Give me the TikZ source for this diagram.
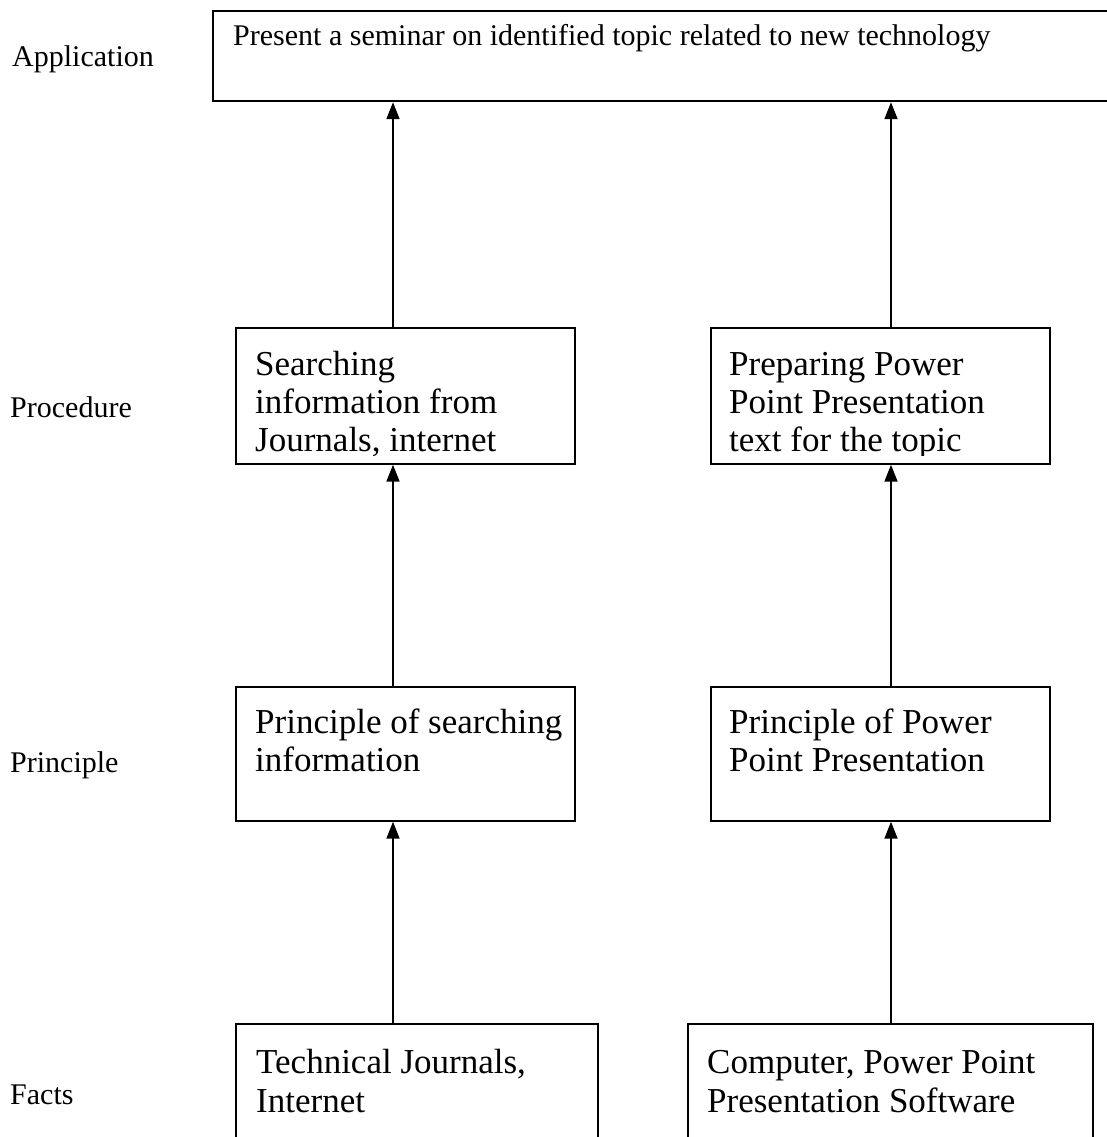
\documentclass[tikz,border=0pt]{standalone}
\usepackage{fontspec}
\setmainfont{Liberation Serif}
\usetikzlibrary{arrows.meta}
\tikzset{
  box/.style={draw=black, line width=1.7pt, anchor=north west, inner sep=0pt},
  arr/.style={line width=1.7pt, -{Triangle[width=13pt,length=17pt]}},
  lbl/.style={anchor=base west, inner sep=0pt, font=\fontsize{30}{34}\selectfont},
  txt/.style={anchor=base west, inner sep=0pt, font=\fontsize{35}{39}\selectfont},
  toptxt/.style={anchor=base west, inner sep=0pt, font=\fontsize{30}{34}\selectfont}
}
\begin{document}
\begin{tikzpicture}[x=1pt,y=-1pt]
\useasboundingbox (0,0) rectangle (1107,1137);
\clip (0,0) rectangle (1107,1137);
\fill[white] (0,0) rectangle (1107,1137);

% coordinates for arrow columns
\coordinate (cl) at (393,0);
\coordinate (cr) at (891,0);

% boxes
\node[box, line width=2.2pt, minimum width=920pt, minimum height=90pt] (app) at (212,10) {};
\node[box, minimum width=339pt, minimum height=136pt] (proc1) at (235,327) {};
\node[box, minimum width=339pt, minimum height=136pt] (proc2) at (710,327) {};
\node[box, minimum width=339pt, minimum height=134pt] (prin1) at (235,686) {};
\node[box, minimum width=339pt, minimum height=134pt] (prin2) at (710,686) {};
\node[box, minimum width=362pt, minimum height=140pt] (fact1) at (235,1023) {};
\node[box, minimum width=405pt, minimum height=140pt] (fact2) at (687,1023) {};

% labels
\node[lbl] (lapp) at (12,67) {Application};
\node[lbl] (lproc) at (10,417) {Procedure};
\node[lbl] (lprin) at (10,772) {Principle};
\node[lbl] (lfact) at (10,1104) {Facts};

% texts
\node[toptxt] (tapp) at (233,46) {Present a seminar on identified topic related to new technology};

\begin{scope}
\clip (235,327) rectangle (574,455);
\node[txt] (tp1a) at (255,375) {Searching};
\node[txt] (tp1b) at (255,413) {information from};
\node[txt] (tp1c) at (255,451) {Journals, internet};
\end{scope}
\begin{scope}
\clip (710,327) rectangle (1049,455);
\node[txt] (tp2a) at (729,375) {Preparing Power};
\node[txt] (tp2b) at (729,413) {Point Presentation};
\node[txt] (tp2c) at (729,451) {text for the topic};
\end{scope}

\node[txt] (tr1a) at (255,733) {Principle of searching};
\node[txt] (tr1b) at (255,771) {information};
\node[txt] (tr2a) at (729,733) {Principle of Power};
\node[txt] (tr2b) at (729,771) {Point Presentation};

\node[txt] (tf1a) at (256,1073) {Technical Journals,};
\node[txt] (tf1b) at (256,1112) {Internet};
\node[txt] (tf2a) at (707,1073) {Computer, Power Point};
\node[txt] (tf2b) at (707,1112) {Presentation Software};

% arrows
\draw[arr] (fact1.north -| cl) -- (prin1.south -| cl);
\draw[arr] (prin1.north -| cl) -- (proc1.south -| cl);
\draw[arr] (proc1.north -| cl) -- (app.south -| cl);
\draw[arr] (fact2.north -| cr) -- (prin2.south -| cr);
\draw[arr] (prin2.north -| cr) -- (proc2.south -| cr);
\draw[arr] (proc2.north -| cr) -- (app.south -| cr);
\end{tikzpicture}
\end{document}
